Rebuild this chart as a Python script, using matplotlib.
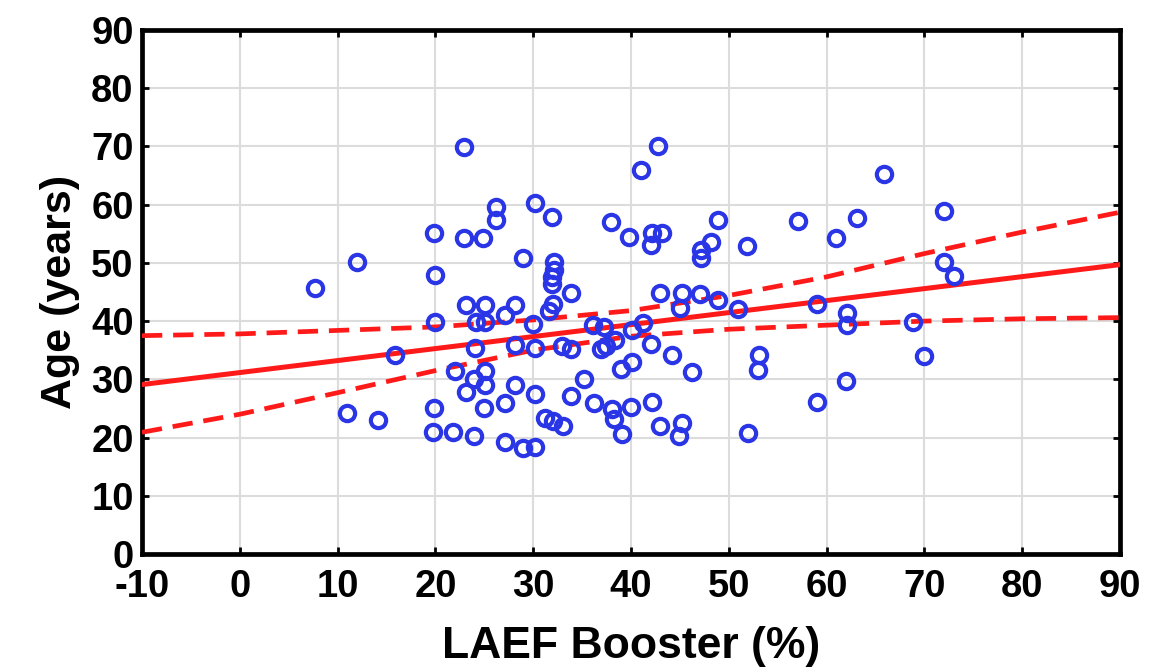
import matplotlib
matplotlib.use('Agg')
import matplotlib.pyplot as plt
import numpy as np

plt.rcParams['font.family'] = ['Liberation Sans', 'DejaVu Sans']
plt.rcParams['axes.unicode_minus'] = False

# scatter points: LAEF booster (%) vs age (years)
booster = [7.7, 12.0, 15.9, 11.0, 14.1,
           19.9, 20.0, 20.0, 19.9, 19.8, 21.8, 22.0, 22.9, 22.9, 23.1, 23.1,
           24.0, 23.9, 23.9, 24.1, 24.9, 25.1, 25.1, 25.1, 25.1, 25.0,
           26.2, 26.2, 27.1, 27.1, 27.1, 28.1, 28.1, 28.1, 29.0, 29.0,
           30.2, 30.0, 30.2, 30.2, 30.2, 31.9, 32.1, 32.1, 31.9, 31.9,
           32.0, 31.6, 31.2, 32.0, 33.0, 32.9, 33.9, 33.9, 33.9, 35.2,
           36.1, 37.2, 36.9, 37.4, 38.4, 40.1, 41.2, 42.0, 44.2, 46.2,
           40.1, 39.0, 36.2, 38.1, 38.3, 39.1, 40.0, 42.1, 43.0, 45.2, 44.9,
           38.0, 39.8, 42.1, 43.2, 42.0, 48.9, 48.2, 47.2, 47.2,
           43.0, 45.2, 45.0, 47.1, 48.9, 42.8, 41.0,
           65.9, 72.0, 57.1, 63.1, 61.0, 51.9, 72.0, 73.0, 50.9, 59.0,
           62.1, 62.1, 68.8, 70.0, 53.1, 53.0, 62.0, 59.0, 52.0]
age = [45.6, 50.2, 34.2, 24.3, 23.0,
       55.1, 48.0, 39.8, 25.0, 20.9, 20.9, 31.5, 69.9, 54.2, 42.7, 27.8,
       35.3, 30.0, 20.3, 39.8, 54.2, 42.7, 39.8, 31.5, 29.0, 25.0,
       59.6, 57.3, 41.0, 26.0, 19.2, 42.7, 35.9, 29.0, 50.9, 18.2,
       60.3, 39.5, 35.3, 27.5, 18.4, 57.9, 50.2, 48.7, 47.5, 46.4,
       43.0, 41.8, 23.4, 22.9, 21.9, 35.8, 35.2, 44.9, 27.2, 30.0,
       39.3, 39.0, 35.2, 35.8, 36.8, 38.4, 39.6, 36.1, 34.1, 31.3,
       33.0, 31.7, 26.0, 24.9, 23.2, 20.6, 25.2, 26.1, 22.0, 22.5, 20.3,
       57.1, 54.4, 55.2, 55.1, 53.1, 57.3, 53.5, 52.2, 50.8,
       44.8, 44.9, 42.2, 44.6, 43.6, 70.0, 66.0,
       65.2, 58.9, 57.2, 57.7, 54.3, 52.9, 50.2, 47.8, 42.1, 42.9,
       41.4, 39.4, 39.8, 34.0, 34.1, 31.6, 29.7, 26.1, 20.8]

# regression line and confidence band, read at the grid positions
fit_x = [-10, 90]
fit_y = [29.1, 49.7]
band_x = [-10, 0, 10, 20, 30, 40, 50, 60, 70, 80, 90]
band_hi = [37.5, 37.8, 38.4, 39.0, 40.2, 41.8, 44.4, 47.6, 51.6, 55.3, 58.7]
band_lo = [20.9, 24.0, 27.7, 31.5, 35.0, 37.4, 38.6, 39.3, 40.0, 40.4, 40.6]

fig = plt.figure(figsize=(11.59, 6.71), dpi=100)
ax = fig.add_axes([0.1225, 0.1744, 0.8439, 0.7809])

red = '#ff1a1a'
ax.plot(fit_x, fit_y, color=red, lw=3.6, zorder=3)
ax.plot(band_x, band_hi, color=red, lw=3.4, dashes=(4.3, 2.3), zorder=3)
ax.plot(band_x, band_lo, color=red, lw=3.4, dashes=(4.3, 2.3), zorder=3)

ax.plot(booster, age, 'o', ms=11, mfc='none', mec='#2a35e6', mew=3.0, zorder=4)

ax.set_xlim(-10, 90)
ax.set_ylim(0, 90)
ax.set_xticks(np.arange(-10, 91, 10))
ax.set_yticks(np.arange(0, 91, 10))
ax.grid(True, color='#dcdcdc', lw=1.5)
ax.set_axisbelow(True)

for s in ax.spines.values():
    s.set_linewidth(3.4)
ax.tick_params(direction='in', length=5, width=2, top=True, right=True,
               labelsize=27.5)
ax.tick_params(axis='x', pad=11)
ax.tick_params(axis='y', pad=6)
for lab in ax.get_xticklabels() + ax.get_yticklabels():
    lab.set_fontweight('bold')

ax.set_xlabel('LAEF Booster (%)', fontsize=32, fontweight='bold', labelpad=15)
ax.set_ylabel('Age (years)', fontsize=31, fontweight='bold', labelpad=8)

fig.savefig('out.png', dpi=100)
